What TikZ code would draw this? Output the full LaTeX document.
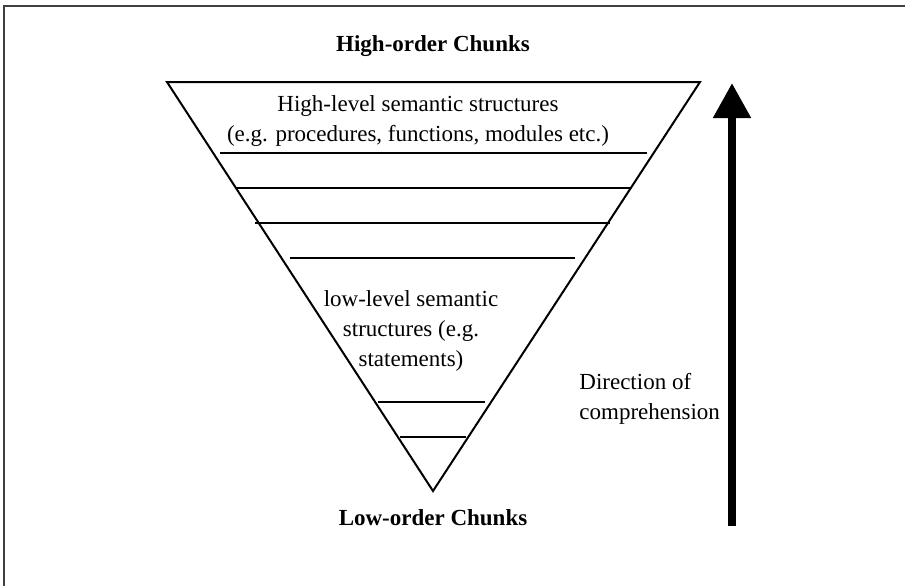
\documentclass[tikz,border=0pt]{standalone}
\usepackage{fontspec}
\setmainfont{Liberation Serif}
\usetikzlibrary{arrows.meta,positioning,calc}

\begin{document}
\begin{tikzpicture}[
  x=0.5pt,y=-0.5pt,
  txt/.style={font=\fontsize{11.5}{15}\selectfont,align=center,inner sep=0pt},
  heading/.style={font=\fontsize{11.5}{15}\selectfont\bfseries,inner sep=0pt},
  layer/.style={line width=0.9pt},
  arrow/.style={-{Triangle[width=18pt,length=17.5pt]},line width=4pt}
]
\useasboundingbox (0,0) rectangle (905,585);
\draw[line width=0.8pt,black!75] (4,6) rectangle (915,595);

% funnel of chunks
\coordinate (tl) at (167,82);
\coordinate (tr) at (700,82);
\coordinate (apex) at (433,491);
\draw[line width=1pt] (tl) -- (tr) -- (apex) -- cycle;
\foreach \y/\a/\b in {153/220/647,188/236/631,223/255/610,258/290/575,402/378/485,437/400/466}
  \draw[layer] (\a,\y) -- (\b,\y);

\node[heading] (high) at (433,46) {High-order Chunks};
\node[heading] (low) at (433,518) {Low-order Chunks};
\node[txt] (hsem) at (418,121) {High-level semantic structures\\(e.g. procedures, functions, modules etc.)};
\node[txt] (lsem) at (411,331) {low-level semantic\\structures (e.g.\\statements)};

% direction arrow
\coordinate (abot) at (732,526);
\coordinate (atop) at (732,83);
\draw[arrow] (abot) -- (atop);
\node[txt,align=left,anchor=west] (dir) at (579,399) {Direction of\\comprehension};
\end{tikzpicture}
\end{document}
